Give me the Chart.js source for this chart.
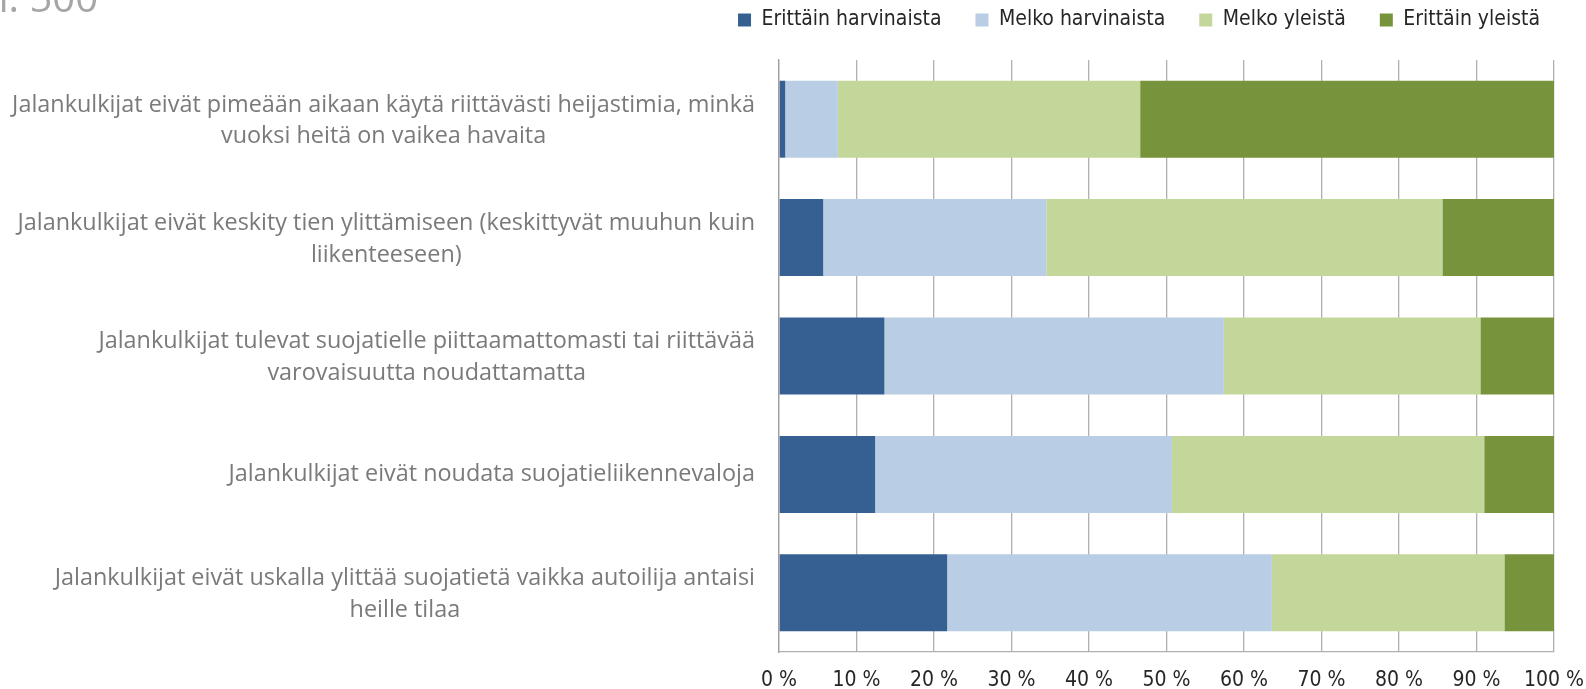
<!DOCTYPE html>
<html lang="fi">
<head>
    <meta charset="UTF-8">
    <title>Jalankulkijat</title>
    <script src="https://cdn.jsdelivr.net/npm/chart.js"></script>
    <style>
        html, body { margin: 0; padding: 0; background: #fff; }
        #wrap { position: relative; width: 1586px; height: 689px; }
    </style>
</head>
<body>
    <div id="wrap"><canvas id="chart" width="1586" height="689"></canvas></div>

    <script>
        // categories (multi-line labels) and series values in percent
        const categories = [
            ['Jalankulkijat eivät pimeään aikaan käytä riittävästi heijastimia, minkä', 'vuoksi heitä on vaikea havaita'],
            ['Jalankulkijat eivät keskity tien ylittämiseen (keskittyvät muuhun kuin', 'liikenteeseen)'],
            ['Jalankulkijat tulevat suojatielle piittaamattomasti tai riittävää', 'varovaisuutta noudattamatta'],
            ['Jalankulkijat eivät noudata suojatieliikennevaloja'],
            ['Jalankulkijat eivät uskalla ylittää suojatietä vaikka autoilija antaisi', 'heille tilaa']
        ];
        const seriesNames = ['Erittäin harvinaista', 'Melko harvinaista', 'Melko yleistä', 'Erittäin yleistä'];
        const erittainHarvinaista = [0.8, 5.7, 13.6, 12.4, 21.7];
        const melkoHarvinaista    = [6.8, 28.8, 43.8, 38.3, 41.9];
        const melkoYleista        = [39.0, 51.1, 33.1, 40.3, 30.0];
        const erittainYleista     = [53.4, 14.4, 9.5, 9.0, 6.4];
        const colors = ['#366092', '#b9cde5', '#c4d79b', '#77933c'];
        const titleText = 'n: 500';

        const labelFont = '23.4px "Open Sans", sans-serif';
        const narrowFont = '"Liberation Sans Narrow", "DejaVu Sans Condensed", "Liberation Sans", sans-serif';

        // draws the y labels: block right-aligned, lines centred inside block
        const yLabelPlugin = {
            id: 'yLabels',
            beforeLayout(chart) {
                // extra room under the legend row
                const lg = chart.legend;
                if (lg && !lg._extra) {
                    const fit = lg.fit;
                    lg.fit = function () { fit.call(this); this.height += 19.5; };
                    lg._extra = true;
                }
            },
            afterDraw(chart) {
                const ctx = chart.ctx;
                const ys = chart.scales.y;
                ctx.save();
                ctx.font = labelFont;
                ctx.fillStyle = '#7a7a7a';
                ctx.textAlign = 'center';
                ctx.textBaseline = 'middle';
                const lineH = 31.5;
                categories.forEach((lines, i) => {
                    const yc = ys.getPixelForValue(i) + (lines.length > 1 ? 1.5 : 0);
                    const w = Math.max(...lines.map(l => ctx.measureText(l).width));
                    const cx = ys.right - 24 - w / 2;
                    const y0 = yc - (lines.length - 1) * lineH / 2;
                    lines.forEach((l, k) => ctx.fillText(l, cx, y0 + k * lineH));
                });
                // cut-off sample size text top-left
                ctx.font = '40px "Open Sans", sans-serif';
                ctx.fillStyle = '#a6a6a6';
                ctx.textAlign = 'right';
                ctx.textBaseline = 'alphabetic';
                ctx.fillText(titleText, 98, 12);
                ctx.restore();
            }
        };

        const seriesData = [erittainHarvinaista, melkoHarvinaista, melkoYleista, erittainYleista];

        new Chart(document.getElementById('chart'), {
            type: 'bar',
            data: {
                labels: categories,
                datasets: seriesNames.map((name, i) => ({
                    label: name,
                    data: seriesData[i],
                    backgroundColor: colors[i],
                    borderWidth: 0,
                    categoryPercentage: 1,
                    barPercentage: 0.65
                }))
            },
            options: {
                indexAxis: 'y',
                responsive: false,
                animation: false,
                layout: { padding: { left: 0, right: 12, top: -24.5, bottom: -20 } },
                plugins: {
                    tooltip: { enabled: false },
                    legend: {
                        position: 'top',
                        align: 'end',
                        labels: {
                            boxWidth: 13,
                            boxHeight: 13,
                            padding: 34,
                            color: '#262626',
                            font: { family: narrowFont, size: 21 }
                        }
                    }
                },
                scales: {
                    x: {
                        stacked: true,
                        min: 0,
                        max: 100,
                        ticks: {
                            stepSize: 10,
                            color: '#262626',
                            padding: 18,
                            font: { family: narrowFont, size: 21, lineHeight: 1 },
                            callback: v => v + ' %'
                        },
                        grid: { color: '#b0b0b0', lineWidth: 1.3, drawTicks: false },
                        border: { display: true, color: '#b0b0b0', width: 1.3 },
                        afterFit(scale) { scale.paddingLeft = 0; scale.paddingRight = 32; }
                    },
                    y: {
                        stacked: true,
                        ticks: { color: 'rgba(0,0,0,0)', font: { size: 20 } },
                        grid: { display: false, drawTicks: false },
                        border: { display: true, color: '#a0a0a0', width: 1.3 },
                        afterFit(scale) {
                            scale.width = 779;
                            scale.paddingTop = 0;
                            scale.paddingBottom = 0;
                        }
                    }
                }
            },
            plugins: [yLabelPlugin]
        });
    </script>
</body>
</html>
